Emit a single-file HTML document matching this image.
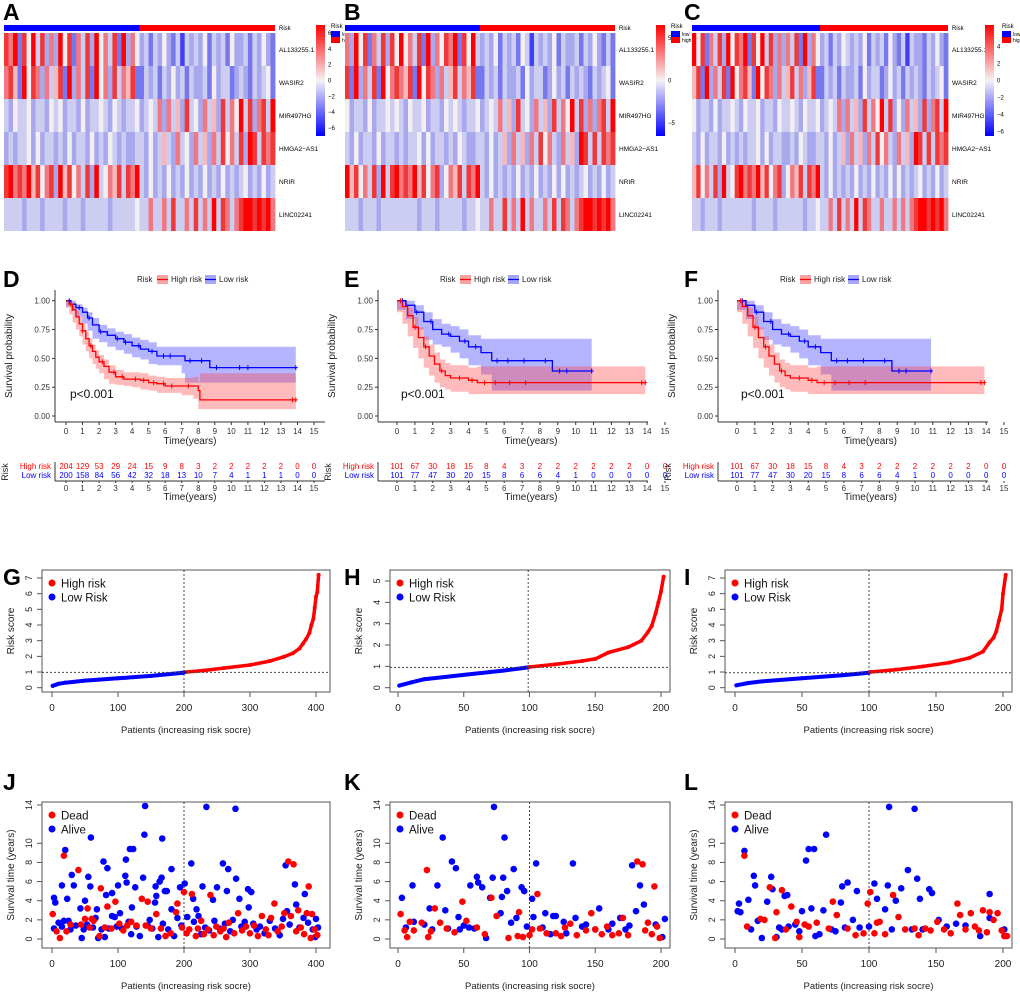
<!DOCTYPE html>
<html><head><meta charset="utf-8"><style>
html,body{margin:0;padding:0;background:#fff}
svg{display:block;font-family:"Liberation Sans",sans-serif}
</style></head><body>
<svg id="fig" width="1020" height="1002" viewBox="0 0 1020 1002" xmlns="http://www.w3.org/2000/svg">
<defs>
<linearGradient id="cbar" x1="0" y1="0" x2="0" y2="1">
<stop offset="0" stop-color="#ff0000"/><stop offset="0.5" stop-color="#f5f2f5"/><stop offset="1" stop-color="#0000ff"/>
</linearGradient>
</defs>
</svg>
<script>
// ---------- DATA ----------
const geneNames=["AL133255.1","WASIR2","MIR497HG","HMGA2\u2212AS1","NRIR","LINC02241"];
const heatA=["879285948373958274839574829375342435324143435243425334243532",
"786295873746829374829573847682243424353424334253442343243452",
"435445344354534435344543543445345473746384537463847594837849",
"343445353443435344353435434334435346437453746374857483984878",
"897879685783968574839457684879435343534353435343534345343534",
"444434443444434443444443444445447447484474847494874789989897"];
const heatB=["739582748385957482937587928594343524342541434352433424353242",
"829374829578768295873746847682243424334253442353424343243452",
"534435344545435445344354543445345474638453746384759483737849",
"435344353443434453534434354334435346374637485743746398484878",
"968574839489787968578357684879435343435343534353534345343534",
"444344434444444434443444443445447448474947447484874789989897"];
const heatC=["958274839587928594837374829375342435434352434253241433243532",
"682937482957862958737468473682243424334253442353424343243452",
"534435344543544534435445435445345473746384759483537463837849",
"435344353434344535344334354334435346374637485743746398484878",
"685748394589787968578357684879435343435343534353534345343534",
"443444344444443444434444443445447484749487447447474789989897"];

// KM data (time, survival, lower CI, upper CI)
const kmHighT_D=[0,0.2,0.4,0.6,0.8,1,1.2,1.4,1.6,1.8,2,2.3,2.6,3,3.5,4,4.5,5,5.5,6,7,7.7,8,8.1,13.9];
const kmHighS_D=[1,.97,.92,.86,.8,.74,.67,.61,.56,.51,.47,.43,.38,.34,.32,.32,.31,.29,.28,.26,.26,.26,.22,.14,.14];
const kmHighLo_D=[1,.94,.88,.81,.75,.69,.62,.56,.5,.45,.41,.37,.32,.28,.27,.26,.25,.23,.22,.2,.2,.18,.15,.06,.06];
const kmHighHi_D=[1,1,.96,.91,.86,.8,.73,.67,.62,.57,.53,.49,.44,.4,.38,.38,.37,.35,.34,.33,.33,.34,.3,.37,.37];
const kmLowT_D=[0,0.3,0.6,1,1.3,1.6,2,2.5,3,3.5,4,4.5,5,5.5,6,7,7.2,8.7,13.9];
const kmLowS_D=[1,.97,.94,.9,.85,.79,.73,.7,.67,.64,.61,.58,.56,.52,.52,.52,.48,.42,.42];
const kmLowLo_D=[1,.95,.91,.86,.8,.74,.67,.64,.6,.57,.54,.51,.49,.45,.44,.44,.37,.29,.29];
const kmLowHi_D=[1,1,.97,.94,.9,.85,.79,.76,.73,.71,.68,.66,.64,.6,.6,.6,.6,.6,.6];
const kmHighT_E=[0,0.3,0.6,0.9,1.2,1.5,1.8,2.1,2.4,2.7,3,4,4.5,13.9];
const kmHighS_E=[1,.95,.87,.77,.68,.6,.52,.45,.39,.35,.33,.31,.29,.29];
const kmHighLo_E=[1,.9,.8,.69,.59,.5,.42,.35,.29,.25,.23,.21,.19,.19];
const kmHighHi_E=[1,1,.94,.86,.77,.69,.62,.55,.49,.46,.44,.42,.43,.43];
const kmLowT_E=[0,0.5,1,1.5,2,2.5,3,3.5,4,4.7,5.3,8.7,10.9];
const kmLowS_E=[1,.96,.9,.82,.75,.71,.69,.65,.6,.55,.48,.39,.39];
const kmLowLo_E=[1,.92,.84,.75,.66,.62,.6,.55,.5,.44,.36,.22,.22];
const kmLowHi_E=[1,1,.96,.9,.84,.8,.78,.75,.7,.67,.67,.67,.67];
const censHigh_D=[0.3,1,1.5,2.2,2.9,3.4,4.2,4.7,5.3,5.9,6.4,7.4,13.7,13.9];
const censLow_D=[0.2,0.8,1.4,2.1,3.1,3.6,4.4,5.2,5.9,6.3,7.5,8.2,9.1,10.5,11,13.9];
const censHigh_E=[0.2,1,1.6,2.5,3.5,4.2,4.9,5.5,6.3,7.2,13.7,13.9];
const censLow_E=[0.3,1.1,1.9,2.9,3.8,4.4,5.6,6.2,7.1,8.3,9.1,9.5,10.9];
const atRiskHigh_D=[204,129,53,29,24,15,9,8,3,2,2,2,2,2,0,0];
const atRiskLow_D=[200,158,84,56,42,32,18,13,10,7,4,1,1,1,0,0];
const atRiskHigh_E=[101,67,30,18,15,8,4,3,2,2,2,2,2,2,0,0];
const atRiskLow_E=[101,77,47,30,20,15,8,6,6,4,1,0,0,0,0,0];
const kmTicksX=[0,1,2,3,4,5,6,7,8,9,10,11,12,13,14,15];
const kmTicksY=[0,0.25,0.5,0.75,1];

// risk score curves (patient index, score)
const riskIdxG=[1,10,20,50,100,150,199,200,230,260,300,330,350,365,375,380,385,390,393,396,398,400,402,404];
const riskScoreG=[0.12,0.25,0.32,0.45,0.6,0.75,0.95,0.98,1.1,1.25,1.45,1.7,1.95,2.2,2.5,2.8,3.1,3.5,4.0,4.4,5.1,5.8,6.1,7.2];
const riskIdxH=[1,10,20,50,80,99,100,120,140,150,160,175,185,190,193,196,198,200,202];
const riskScoreH=[0.1,0.25,0.4,0.6,0.8,0.95,0.97,1.1,1.25,1.35,1.65,1.9,2.2,2.6,2.9,3.5,4.0,4.5,5.2];
const riskIdxI=[1,10,20,50,80,100,101,120,140,160,175,185,190,193,195,197,199,200,202];
const riskScoreI=[0.15,0.3,0.4,0.6,0.8,0.95,1.0,1.15,1.35,1.6,1.9,2.3,2.9,3.2,3.6,4.3,5.0,6.0,7.2];

// survival status scatter: [patient, years]
const aliveJ=[[3,4.3],[5,3.8],[3,1.1],[15,1.3],[15,5.6],[20,9.3],[23,4.2],[25,1.9],[30,6.7],[33,5.6],[43,3.2],[45,0.1],[50,4],[55,6.5],[58,5.5],[59,10.6],[68,3.1],[70,0.1],[78,8.1],[82,4.6],[84,7.4],[91,4.8],[91,2.4],[100,5.6],[103,2.7],[111,6.6],[112,8.3],[113,5.9],[118,9.4],[123,9.4],[126,5.4],[121,3.3],[138,6.4],[140,10.9],[141,13.9],[156,3.8],[157,5.5],[158,4.5],[163,6],[166,6.4],[167,10.5],[171,5],[174,5],[181,7.3],[181,3.1],[194,5.4],[201,5.8],[211,7.9],[214,4.2],[219,3.1],[228,5.5],[234,13.8],[244,4.1],[250,5.4],[259,7.9],[267,7.3],[265,5],[278,13.6],[279,6.3],[284,4.2],[297,5.2],[302,4.9],[298,3.3],[354,7.7],[356,2.9],[368,5.7],[370,3.6],[383,4.7],[381,2.2],[400,2.1],[399,0.2],[403,1.2],
[10,1.7],[18,1.9],[28,1.0],[36,1.4],[48,1.0],[53,1.5],[62,1.2],[66,2.2],[75,1.0],[80,0.2],[86,1.1],[95,2.3],[98,1.3],[106,1.1],[116,1.8],[120,0.5],[128,1.3],[133,0.3],[145,1.4],[148,2.0],[152,1.1],[161,0.2],[168,1.6],[176,1.0],[185,0.3],[190,2.2],[196,1.4],[205,2.3],[215,1.8],[222,2.4],[226,0.5],[232,1.2],[238,0.9],[246,1.9],[254,1.1],[262,1.6],[270,0.8],[274,2.0],[287,1.3],[292,1.8],[305,1.6],[310,1.0],[315,1.3],[322,0.6],[330,1.9],[338,1.1],[345,0.4],[350,2.1],[360,1.5],[375,1.2],[388,1.7],[395,1.0]];
const deadJ=[[1,2.6],[7,0.8],[12,0.1],[18,8.7],[22,0.8],[28,1.5],[40,7.2],[44,1.5],[50,2.1],[54,3.2],[57,1.2],[60,2.1],[63,1.9],[72,0.3],[74,5.3],[80,1.2],[84,3.4],[90,1.1],[96,3.9],[102,1.6],[108,0.9],[114,1.4],[120,1.8],[128,1.4],[136,4.2],[142,1.4],[145,3.9],[150,1.1],[158,2.6],[165,1.1],[172,0.3],[180,0.6],[188,2.8],[190,3.7],[197,1.2],[200,4.9],[204,0.6],[208,1.0],[212,4.7],[218,0.3],[221,1.1],[226,1.9],[230,0.5],[236,1.0],[240,4.6],[245,0.4],[249,1.3],[255,0.8],[260,1.1],[264,0.2],[268,1.7],[276,0.6],[282,2.7],[288,0.9],[294,1.3],[300,0.6],[306,1.4],[312,0.3],[318,2.4],[324,1.0],[328,0.4],[332,2.2],[337,3.7],[342,0.8],[348,1.3],[352,2.7],[358,8.1],[362,2.4],[366,7.8],[370,0.8],[373,3.0],[377,1.2],[382,0.5],[386,2.7],[389,5.5],[392,0.1],[394,2.6],[398,1.0],[402,0.4]];
const aliveK=[[3,4.3],[6,1.2],[11,5.6],[12,1.8],[24,3.2],[30,5.6],[34,10.6],[36,3.0],[41,8.1],[44,7.4],[46,2.3],[47,1.0],[54,1.2],[55,5.6],[60,6.5],[61,5.9],[64,5.4],[67,0.1],[70,4.3],[72,6.4],[73,13.8],[78,2.7],[79,4.4],[80,6.4],[81,10.6],[83,5.0],[88,7.3],[94,5.4],[96,5.0],[98,1.3],[102,4.2],[103,2.3],[105,7.9],[112,2.7],[116,0.5],[118,2.4],[120,2.4],[126,1.8],[135,2.2],[133,7.9],[143,1.5],[153,3.2],[150,1.0],[163,1.6],[169,2.2],[173,1.0],[178,7.7],[181,2.9],[184,5.6],[187,3.6],[196,1.5],[201,0.2],[203,2.1],[20,1.5],[26,1.0],[38,1.1],[50,1.4],[58,1.1],[86,1.7],[90,2.2],[110,1.2],[128,0.6],[140,1.3],[160,1.0],[176,1.4]];
const deadK=[[2,2.6],[5,0.9],[7,0.2],[9,1.8],[12,0.9],[18,1.7],[22,7.2],[23,0.2],[25,0.8],[28,3.2],[32,1.7],[37,1.1],[43,0.7],[49,3.9],[52,1.9],[60,1.2],[66,0.5],[71,4.3],[75,2.4],[84,0.1],[91,0.3],[92,2.8],[95,0.2],[100,0.4],[102,1.0],[106,4.7],[108,1.1],[113,0.6],[120,0.6],[124,0.3],[127,1.2],[131,1.6],[136,0.4],[143,0.9],[147,2.7],[150,1.0],[155,0.5],[159,1.3],[163,0.4],[168,0.6],[171,2.2],[175,0.4],[182,8.1],[186,7.8],[188,0.9],[190,1.7],[193,0.5],[195,5.5],[197,1.3],[199,0.1]];
const aliveL=[[2,2.9],[3,3.7],[4,2.8],[7,9.2],[10,4.1],[12,1.0],[14,6.6],[15,5.6],[17,1.9],[20,0.1],[24,3.9],[27,6.5],[28,5.2],[31,0.2],[33,1.2],[37,4.5],[39,4.6],[40,1.3],[45,1.5],[50,2.9],[53,8.2],[55,9.4],[57,3.2],[59,9.4],[63,0.5],[66,3.0],[68,10.9],[72,1.0],[79,3.8],[80,5.5],[82,1.2],[84,5.9],[88,2.0],[91,5.0],[93,1.2],[100,1.3],[104,5.8],[106,4.2],[112,3.1],[114,5.6],[115,13.8],[117,1.0],[120,4.0],[124,5.3],[129,7.2],[132,1.0],[134,13.6],[136,6.3],[138,4.2],[140,1.0],[145,5.2],[147,4.8],[152,2.0],[158,1.3],[165,1.6],[172,1.4],[183,0.3],[190,2.2],[190,4.7],[201,1.0],[35,1.0],[48,0.8],[60,0.3],[75,0.8]];
const deadL=[[7,8.7],[9,1.3],[19,2.1],[22,2.0],[26,5.4],[30,0.1],[31,2.8],[35,5.1],[38,1.0],[42,3.4],[46,1.8],[48,0.2],[52,1.5],[55,1.3],[61,1.7],[70,1.1],[73,3.9],[76,2.5],[84,1.1],[90,0.4],[96,0.6],[99,3.7],[101,4.9],[104,0.6],[106,1.7],[108,1.8],[112,0.5],[118,4.6],[122,2.3],[127,1.0],[134,1.1],[137,0.4],[142,1.1],[146,0.9],[151,1.8],[156,1.0],[161,0.6],[166,3.7],[168,2.5],[172,1.0],[176,2.7],[179,1.3],[182,0.9],[185,3.0],[188,0.7],[190,2.8],[193,2.0],[196,2.7],[199,0.9],[201,0.3],[203,0.3]];

// ---------- DRAWING ----------
const NS="http://www.w3.org/2000/svg";
const svg=document.getElementById('fig');
function mk(tag,a,p){const e=document.createElementNS(NS,tag);for(const k in a)e.setAttribute(k,a[k]);(p||svg).appendChild(e);return e;}
function tx(s,x,y,a,p){const e=mk('text',Object.assign({x:x,y:y},a||{}),p);e.textContent=s;return e;}
function grp(name){const g=mk('g',{});return g;}
const heatCols=['#0000ff','#4040f5','#7878ee','#a8a8ee','#cdcdf2','#f2eef2','#f5b8bc','#f07880','#f03838','#ff0000'];

function panelLetter(s,x,y){const t=tx(s,x,y,{'font-size':23,'font-weight':'bold',fill:'#000'});

}

function drawHeat(id,rows,c){
  const g=grp('heatmap-'+id);
  const W=c.x1-c.x0;
  const n=rows[0].length, nLow=30;
  const ann=mk('rect',{x:c.x0,y:25,width:W*nLow/n,height:6,fill:'#0000ff'},g);
  
  
  const ann2=mk('rect',{x:c.x0+W*nLow/n,y:25,width:W-W*nLow/n,height:6,fill:'#ff0000'},g);
  
  
  tx('Risk',c.x1+4,30,{'font-size':6,fill:'#000'},g);
  rows.forEach((r,ri)=>{
    const y=33+ri*33, cw=W/r.length;
    for(let j=0;j<r.length;j++){
      const cell=mk('rect',{x:(c.x0+j*cw).toFixed(2),y:y,width:(cw+0.4).toFixed(2),height:33,fill:heatCols[+r[j]]},g);
      
      
    }
    const lb=tx(geneNames[ri],c.x1+4,y+19,{'font-size':6.5,fill:'#000'},g);
    
    
  });
  const cb=mk('rect',{x:c.cbX,y:25,width:9,height:111,fill:'url(#cbar)'},g);
  
  
  c.cbTicks.forEach(v=>{
    const y=80.5-v*111/(2*c.cbMax);
    tx(v<0?'\u2212'+(-v):String(v),c.cbX+12,y+2,{'font-size':6,fill:'#000'},g);
  });
  tx('Risk',c.legX,28,{'font-size':6,fill:'#000'},g);
  const lb1=mk('rect',{x:c.legX,y:31,width:9,height:6,fill:'#0000ff'},g);
  
  
  const lb2=mk('rect',{x:c.legX,y:37,width:9,height:6,fill:'#ff0000'},g);
  
  
  tx('low',c.legX+11,36,{'font-size':5,fill:'#000'},g);
  tx('high',c.legX+11,42,{'font-size':5,fill:'#000'},g);
}

function stepPath(T,S,xf,yf){let d='M'+xf(T[0])+','+yf(S[0]);for(let i=1;i<T.length;i++){d+=' H'+xf(T[i])+' V'+yf(S[i]);}return d;}
function bandPath(T,L,H,xf,yf){let d='M'+xf(T[0])+','+yf(H[0]);for(let i=1;i<T.length;i++){d+=' H'+xf(T[i])+' V'+yf(H[i]);}
  d+=' V'+yf(L[L.length-1]);for(let i=T.length-1;i>0;i--){d+=' V'+yf(L[i])+' H'+xf(T[i-1]);}d+=' V'+yf(L[0])+'Z';return d;}
function sAt(T,S,t){let s=S[0];for(let i=0;i<T.length;i++){if(T[i]<=t)s=S[i];}return s;}

function drawKM(id,c,d){
  const g=grp('km-plot-'+id);
  const xf=t=>(c.t0+t*(c.t15-c.t0)/15).toFixed(1);
  const yf=s=>(416-s*115.3).toFixed(1);
  tx('Risk',c.leg,282,{'font-size':8,fill:'#222'},g);
  [['High risk','#f5a3a3','#ff0000',c.leg+20],['Low risk','#a6a6f5','#0000ff',c.leg+68]].forEach(l=>{
    const r=mk('rect',{x:l[3],y:275,width:11,height:9,fill:l[1]},g);
    
    
    mk('line',{x1:l[3],x2:l[3]+11,y1:279.5,y2:279.5,stroke:l[2],'stroke-width':1.2},g);
    tx(l[0],l[3]+14,282,{'font-size':8,fill:'#222'},g);
  });
  const bl=mk('path',{d:bandPath(d.lt,d.ll,d.lh,xf,yf),fill:'rgba(70,70,255,0.4)'},g);
  
  
  const bh=mk('path',{d:bandPath(d.ht,d.hl,d.hh,xf,yf),fill:'rgba(255,60,60,0.35)'},g);
  
  
  const ll=mk('path',{d:stepPath(d.lt,d.ls,xf,yf),fill:'none',stroke:'#0000ff','stroke-width':1.3},g);
  
  
  const hl=mk('path',{d:stepPath(d.ht,d.hs,xf,yf),fill:'none',stroke:'#ff0000','stroke-width':1.3},g);
  
  
  [[d.lc,d.lt,d.ls,'#0000ff'],[d.hc,d.ht,d.hs,'#ff0000']].forEach(q=>{
    q[0].forEach(t=>{const x=+xf(t),y=+yf(sAt(q[1],q[2],t));
      mk('path',{d:`M${x-2},${y}H${x+2}M${x},${y-2.5}V${y+2.5}`,stroke:q[3],'stroke-width':1},g);});
  });
  mk('line',{x1:c.ax,x2:c.ax,y1:290,y2:422,stroke:'#333','stroke-width':1},g);
  mk('line',{x1:c.ax,x2:c.ax+270,y1:422,y2:422,stroke:'#333','stroke-width':1},g);
  kmTicksY.forEach(v=>{const y=+yf(v);mk('line',{x1:c.ax-3,x2:c.ax,y1:y,y2:y,stroke:'#333'},g);
    tx(v.toFixed(2),c.ax-5,y+3,{'font-size':8,fill:'#333','text-anchor':'end'},g);});
  kmTicksX.forEach(v=>{const x=+xf(v);mk('line',{x1:x,x2:x,y1:422,y2:425,stroke:'#333'},g);
    tx(String(v),x,434,{'font-size':8,fill:'#333','text-anchor':'middle'},g);});
  const xt=tx('Time(years)',(+xf(7.5)),444,{'font-size':10,fill:'#222','text-anchor':'middle'},g);
  
  
  if(c.ylab){const yt=tx('Survival probability',0,0,{'font-size':10,fill:'#222','text-anchor':'middle',transform:`translate(${c.ax-43},356) rotate(-90)`},g);
    
    }
  const pv=tx('p<0.001',c.t0+4,398,{'font-size':12,fill:'#111'},g);
  
  
  const tg=grp('risk-table-'+id);
  tx('High risk',c.ax-4,469,{'font-size':8,fill:'#ff0000','text-anchor':'end'},tg);
  tx('Low risk',c.ax-4,478,{'font-size':8,fill:'#0000ff','text-anchor':'end'},tg);
  tx('Risk',0,0,{'font-size':9,fill:'#222','text-anchor':'middle',transform:`translate(${c.ax-47},472) rotate(-90)`},tg);
  kmTicksX.forEach((v,i)=>{const x=+xf(v);
    tx(String(d.rh[i]),x,469,{'font-size':8,fill:'#ff0000','text-anchor':'middle'},tg);
    tx(String(d.rl[i]),x,478,{'font-size':8,fill:'#0000ff','text-anchor':'middle'},tg);
    mk('line',{x1:x,x2:x,y1:481,y2:483,stroke:'#333'},tg);
    tx(String(v),x,491,{'font-size':8,fill:'#333','text-anchor':'middle'},tg);});
  mk('line',{x1:c.ax,x2:c.ax,y1:462,y2:481,stroke:'#333'},tg);
  mk('line',{x1:c.ax,x2:c.ax+270,y1:481,y2:481,stroke:'#333'},tg);
  tx('Time(years)',+xf(7.5),500,{'font-size':10,fill:'#222','text-anchor':'middle'},tg);
}

function frame(g,c,xticks,yticks,xf,yf,yTitle){
  mk('rect',{x:c.bx0,y:c.by0,width:c.bx1-c.bx0,height:c.by1-c.by0,fill:'none',stroke:'#555','stroke-width':1},g);
  xticks.forEach(v=>{const x=xf(v);mk('line',{x1:x,x2:x,y1:c.by1,y2:c.by1+5,stroke:'#555'},g);
    tx(String(v),x,c.by1+19,{'font-size':10,fill:'#222','text-anchor':'middle'},g);});
  yticks.forEach(v=>{const y=yf(v);mk('line',{x1:c.bx0-5,x2:c.bx0,y1:y,y2:y,stroke:'#555'},g);
    tx(String(v),0,0,{'font-size':9,fill:'#222','text-anchor':'middle',transform:`translate(${c.bx0-10},${y}) rotate(-90)`},g);});
  const xt=tx('Patients (increasing risk socre)',(c.bx0+c.bx1)/2,c.by1+41,{'font-size':9.5,fill:'#222','text-anchor':'middle'},g);
  
  
  const yt=tx(yTitle,0,0,{'font-size':10,fill:'#222','text-anchor':'middle',transform:`translate(${c.bx0-28},${(c.by0+c.by1)/2}) rotate(-90)`},g);
  
  
}
function legend2(g,c,labels){
  [['#ff0000',labels[0]],['#0000ff',labels[1]]].forEach((l,i)=>{
    const dot=mk('circle',{cx:c.bx0+10,cy:c.by0+13+i*14,r:3.5,fill:l[0]},g);
    
    
    tx(l[1],c.bx0+19,c.by0+17.5+i*14,{'font-size':11.5,fill:'#111'},g);});
}

function drawRisk(id,c,idx,score,split,xmax,ymax,xticks,yticks){
  const g=grp('risk-score-plot-'+id);
  const xf=v=>c.x0+v*(c.xm-c.x0)/xmax;
  const yf=v=>c.y0-v*(c.y0-c.ym)/ymax;
  frame(g,c,xticks,yticks,xf,yf,'Risk score');
  const lowPts=[],hiPts=[];
  idx.forEach((p,i)=>{const pt=xf(p).toFixed(1)+','+yf(score[i]).toFixed(1);
    if(p<=split)lowPts.push(pt);
    if(p>=split)hiPts.push(pt);});
  const l1=mk('polyline',{points:lowPts.join(' '),fill:'none',stroke:'#0000ff','stroke-width':4,'stroke-linecap':'round','stroke-linejoin':'round'},g);
  
  
  const l2=mk('polyline',{points:hiPts.join(' '),fill:'none',stroke:'#ff0000','stroke-width':3.5,'stroke-linecap':'round','stroke-linejoin':'round'},g);
  
  
  idx.forEach((p,i)=>{const dt=mk('circle',{cx:xf(p),cy:yf(score[i]),r:2,fill:p<=split?'#0000ff':'#ff0000'},g);
    
    });
  mk('line',{x1:xf(split),x2:xf(split),y1:c.by0,y2:c.by1,stroke:'#444','stroke-dasharray':'2,2'},g);
  mk('line',{x1:c.bx0,x2:c.bx1,y1:yf(score[idx.indexOf(split)]),y2:yf(score[idx.indexOf(split)]),stroke:'#444','stroke-dasharray':'2,2'},g);
  legend2(g,c,['High risk','Low Risk']);
}

function drawSurv(id,c,alive,dead,split,xmax,xticks){
  const g=grp('survival-status-plot-'+id);
  const xf=v=>c.x0+v*(c.xm-c.x0)/xmax;
  const yf=v=>939-v*(939-805)/14;
  frame(g,c,xticks,[0,2,4,6,8,10,14],xf,yf,'Survival time (years)');
  mk('line',{x1:xf(split),x2:xf(split),y1:c.by0,y2:c.by1,stroke:'#444','stroke-dasharray':'2,2'},g);
  alive.forEach(p=>{const d=mk('circle',{cx:xf(p[0]).toFixed(1),cy:yf(p[1]).toFixed(1),r:3.3,fill:'#0000ff'},g);
    
    });
  dead.forEach(p=>{const d=mk('circle',{cx:xf(p[0]).toFixed(1),cy:yf(p[1]).toFixed(1),r:3.3,fill:'#ff0000'},g);
    
    });
  legend2(g,c,['Dead','Alive']);
}

panelLetter('A',3,20);panelLetter('B',344,20);panelLetter('C',684,20);
panelLetter('D',3,287);panelLetter('E',344,287);panelLetter('F',684,287);
panelLetter('G',3,585);panelLetter('H',344,585);panelLetter('I',684,585);
panelLetter('J',3,790);panelLetter('K',344,790);panelLetter('L',684,790);

drawHeat('a',heatA,{x0:4,x1:275,cbX:316,cbMax:7,cbTicks:[6,4,2,0,-2,-4,-6],legX:331});
drawHeat('b',heatB,{x0:345,x1:615,cbX:656,cbMax:6.5,cbTicks:[5,0,-5],legX:671});
drawHeat('c',heatC,{x0:692,x1:948,cbX:985,cbMax:6.5,cbTicks:[4,2,0,-2,-4,-6],legX:1002});

const kmD={ht:kmHighT_D,hs:kmHighS_D,hl:kmHighLo_D,hh:kmHighHi_D,lt:kmLowT_D,ls:kmLowS_D,ll:kmLowLo_D,lh:kmLowHi_D,hc:censHigh_D,lc:censLow_D,rh:atRiskHigh_D,rl:atRiskLow_D};
const kmE={ht:kmHighT_E,hs:kmHighS_E,hl:kmHighLo_E,hh:kmHighHi_E,lt:kmLowT_E,ls:kmLowS_E,ll:kmLowLo_E,lh:kmLowHi_E,hc:censHigh_E,lc:censLow_E,rh:atRiskHigh_E,rl:atRiskLow_E};
drawKM('d',{ax:55,t0:66,t15:314,leg:137,ylab:true},kmD);
drawKM('e',{ax:378,t0:397,t15:665,leg:440,ylab:true},kmE);
drawKM('f',{ax:718,t0:737,t15:1004,leg:780,ylab:true},kmE);

drawRisk('g',{bx0:42,bx1:330,by0:570,by1:692,x0:52,xm:316,y0:687.7,ym:578},riskIdxG,riskScoreG,200,400,7,[0,100,200,300,400],[0,1,2,3,4,5,6,7]);
drawRisk('h',{bx0:390,bx1:670,by0:570,by1:692,x0:398,xm:661,y0:687.7,ym:581},riskIdxH,riskScoreH,99,200,5,[0,50,100,150,200],[0,1,2,3,4,5]);
drawRisk('i',{bx0:725,bx1:1012,by0:570,by1:692,x0:735,xm:1003,y0:687.7,ym:578},riskIdxI,riskScoreI,100,200,7,[0,50,100,150,200],[0,1,2,3,4,5,6,7]);

drawSurv('j',{bx0:42,bx1:330,by0:802,by1:948,x0:52,xm:316},aliveJ,deadJ,200,400,[0,100,200,300,400]);
drawSurv('k',{bx0:390,bx1:670,by0:802,by1:948,x0:398,xm:661},aliveK,deadK,100,200,[0,50,100,150,200]);
drawSurv('l',{bx0:725,bx1:1012,by0:802,by1:948,x0:735,xm:1003},aliveL,deadL,100,200,[0,50,100,150,200]);
</script>
</body></html>
